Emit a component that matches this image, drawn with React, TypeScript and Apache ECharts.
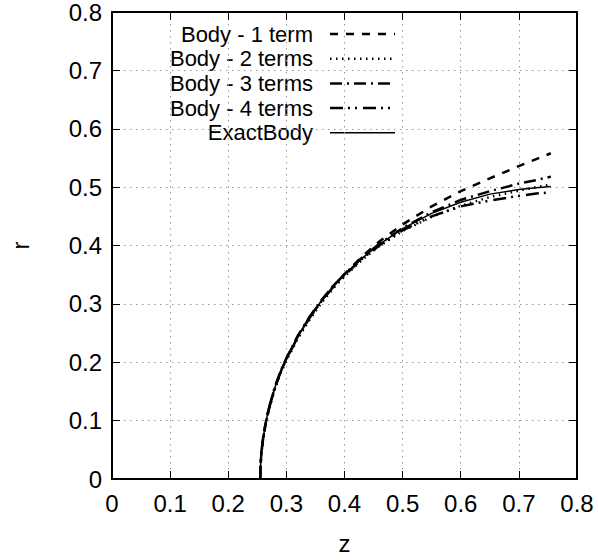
import React, { useEffect, useRef } from "react";
import * as echarts from "echarts";

// z positions shared by all curves
const zValues = [
  0.255, 0.2555, 0.257, 0.26, 0.265, 0.27, 0.28, 0.29, 0.3, 0.32, 0.34, 0.36,
  0.38, 0.4, 0.43, 0.46, 0.5, 0.55, 0.6, 0.65, 0.7, 0.73, 0.755,
];

const rBody1 = [
  0, 0.022, 0.045, 0.07, 0.099, 0.121, 0.156, 0.184, 0.206, 0.245, 0.277,
  0.305, 0.33, 0.351, 0.381, 0.407, 0.436, 0.467, 0.493, 0.515, 0.536, 0.548,
  0.558,
];
const rBody2 = [
  0, 0.021, 0.044, 0.069, 0.097, 0.119, 0.153, 0.181, 0.203, 0.241, 0.273,
  0.301, 0.326, 0.347, 0.375, 0.399, 0.425, 0.449, 0.468, 0.483, 0.494, 0.5,
  0.504,
];
const rBody3 = [
  0, 0.022, 0.046, 0.071, 0.1, 0.122, 0.157, 0.185, 0.207, 0.246, 0.278,
  0.306, 0.33, 0.351, 0.379, 0.403, 0.43, 0.457, 0.478, 0.493, 0.506, 0.512,
  0.518,
];
const rBody4 = [
  0, 0.022, 0.045, 0.07, 0.098, 0.12, 0.155, 0.183, 0.205, 0.244, 0.276,
  0.304, 0.328, 0.349, 0.377, 0.4, 0.426, 0.45, 0.467, 0.477, 0.485, 0.489,
  0.491,
];
const rExact = [
  0, 0.022, 0.045, 0.07, 0.099, 0.121, 0.156, 0.184, 0.206, 0.245, 0.277,
  0.305, 0.329, 0.35, 0.378, 0.402, 0.429, 0.455, 0.474, 0.488, 0.496, 0.499,
  0.501,
];

const seriesNames = [
  "Body - 1 term",
  "Body - 2 terms",
  "Body - 3 terms",
  "Body - 4 terms",
  "ExactBody",
];
const seriesValues = [rBody1, rBody2, rBody3, rBody4, rExact];
const dashes: (number[] | "solid")[] = [
  [8, 8],
  [1.5, 4.5],
  [12, 5, 2, 5],
  [13, 5, 2, 5, 2, 6],
  "solid",
];
const widths = [2.5, 2.5, 2.5, 2.5, 1.5];

const FONT = "Liberation Sans";
const FS = 24;
const LEGEND_FS = 22;

export default function App() {
  const ref = useRef<HTMLDivElement>(null);
  useEffect(() => {
    const chart = echarts.init(ref.current!, null, { renderer: "svg" });
    const left = 108;
    const right = 21;
    const top = 12;
    const bottom = 79;

    const axisCommon = {
      type: "value" as const,
      min: 0,
      max: 0.8,
      interval: 0.1,
      axisLine: { show: true, onZero: false, lineStyle: { color: "#000", width: 2 } },
      axisTick: { show: true, inside: true, length: 8, lineStyle: { color: "#000", width: 1 } },
    };

    const series = seriesNames.map((name, i) => ({
      name,
      type: "line" as const,
      data: zValues.map((z, j) => [z, seriesValues[i][j]]),
      showSymbol: false,
      symbol: "none",
      smooth: false,
      lineStyle: {
        color: "#000",
        width: widths[i],
        type: dashes[i] as any,
        cap: "butt" as const,
      },
      z: 3 + i,
    }));

    const legendX = 313;
    const legendY0 = 34;
    const legendDy = 24.7;
    const graphics: any[] = [];
    seriesNames.forEach((name, i) => {
      const y = legendY0 + i * legendDy;
      graphics.push({
        type: "text",
        x: legendX,
        y,
        style: {
          text: name,
          align: "right",
          verticalAlign: "middle",
          fontSize: LEGEND_FS,
          fontFamily: FONT,
          fill: "#000",
        },
      });
      const d = dashes[i];
      graphics.push({
        type: "line",
        shape: { x1: 330, y1: y, x2: 395, y2: y },
        style: {
          stroke: "#000",
          lineWidth: widths[i],
          lineDash: d === "solid" ? null : d,
          lineCap: "butt",
        },
      });
    });

    chart.setOption({
      animation: false,
      backgroundColor: "#fff",
      textStyle: { fontFamily: FONT },
      grid: { left, right, top, bottom, containLabel: false },
      xAxis: [
        {
          ...axisCommon,
          position: "bottom",
          name: "z",
          nameLocation: "middle",
          nameGap: 52,
          nameTextStyle: { fontSize: FS, color: "#000", fontFamily: FONT },
          axisLabel: { show: true, fontSize: FS, color: "#000", margin: 12, fontFamily: FONT },
          splitLine: {
            show: true,
            lineStyle: { color: "#999", width: 1, type: [1.5, 4.5] },
          },
        },
        {
          ...axisCommon,
          position: "top",
          axisLabel: { show: false },
          splitLine: { show: false },
        },
      ],
      yAxis: [
        {
          ...axisCommon,
          position: "left",
          name: "r",
          nameLocation: "middle",
          nameGap: 80,
          nameTextStyle: { fontSize: FS, color: "#000", fontFamily: FONT },
          axisLabel: { show: true, fontSize: FS, color: "#000", margin: 10, fontFamily: FONT },
          splitLine: {
            show: true,
            lineStyle: { color: "#999", width: 1, type: [1.5, 4.5] },
          },
        },
        {
          ...axisCommon,
          position: "right",
          axisLabel: { show: false },
          splitLine: { show: false },
        },
      ],
      series,
      graphic: graphics,
    });
    return () => chart.dispose();
  }, []);
  return (
    <div
      ref={ref}
      style={{
        position: "fixed",
        left: 0,
        top: 0,
        width: 598,
        height: 560,
        background: "#fff",
      }}
    />
  );
}
